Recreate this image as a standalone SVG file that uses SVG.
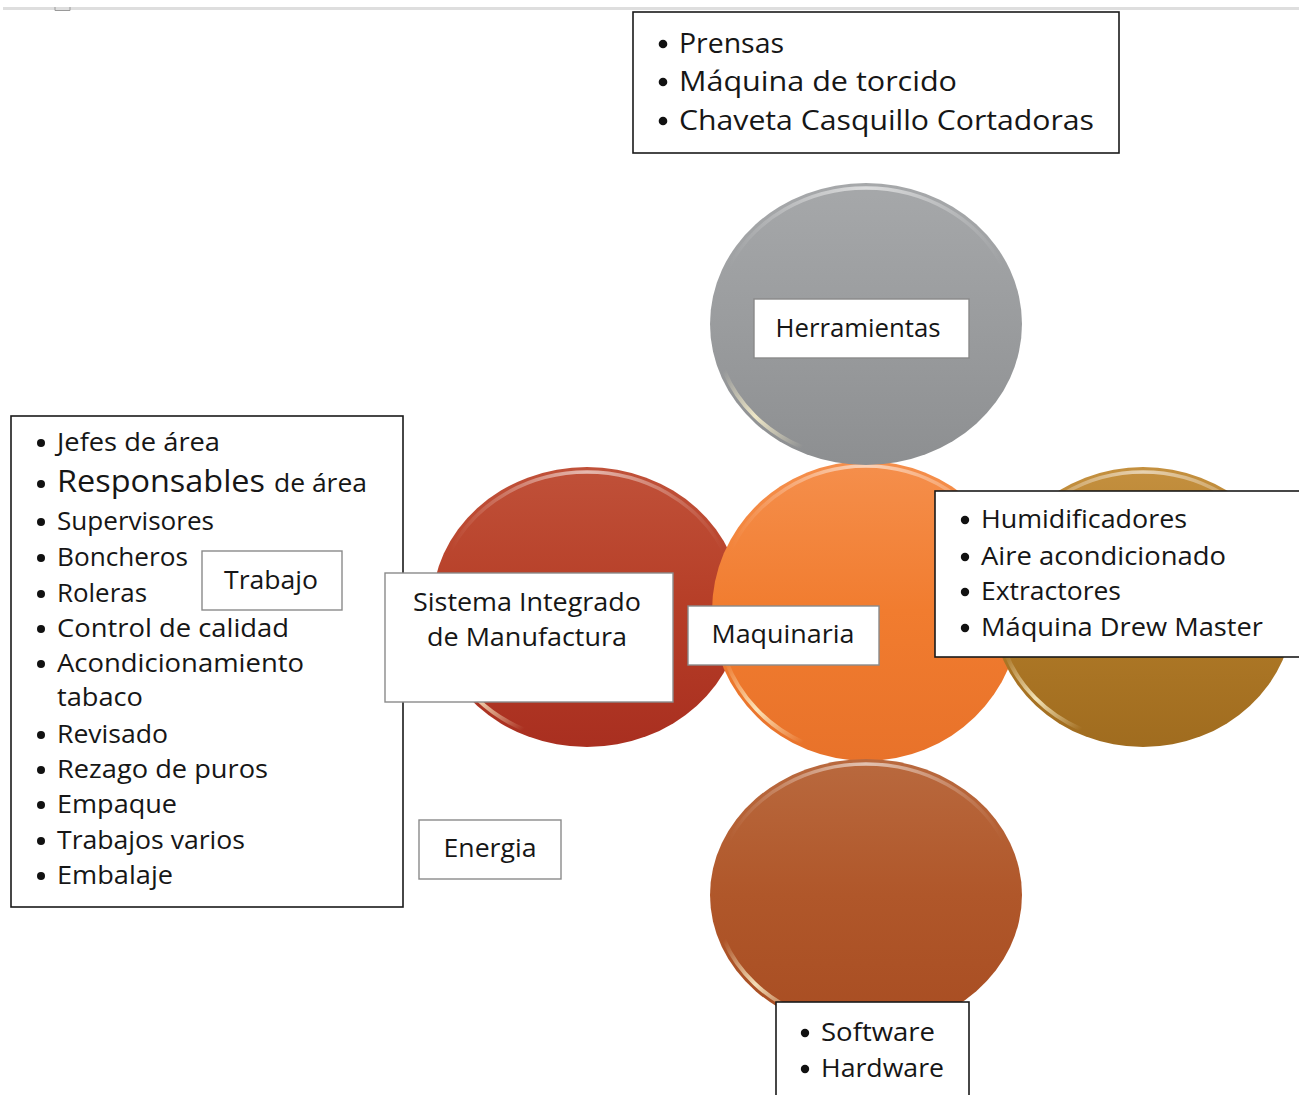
<svg xmlns="http://www.w3.org/2000/svg" width="1299" height="1095" viewBox="0 0 1299 1095">
<defs>
<style>
text{font-family:"Open Sans","Noto Sans","DejaVu Sans",sans-serif;fill:#161616}
.box{fill:#fff;stroke:#1a1a1a;stroke-width:1.6}
.lbl{fill:#fff;stroke:#8a8a8a;stroke-width:1.4}
.hl{fill:none;stroke:url(#hlg);stroke-width:3.5;stroke-linecap:round}
.hb{fill:none;stroke:url(#hbg);stroke-width:4;stroke-linecap:round}
.b{fill:#111}
.t27{font-size:27px}
.t26{font-size:26px}
.t25{font-size:25px}
.c{text-anchor:middle}
</style>
<linearGradient id="hlg" x1="0" y1="0" x2="1" y2="0">
<stop offset="0" stop-color="#fff" stop-opacity="0"/>
<stop offset="0.5" stop-color="#fff" stop-opacity="0.6"/>
<stop offset="1" stop-color="#fff" stop-opacity="0"/>
</linearGradient>
<linearGradient id="hbg" x1="0" y1="0" x2="1" y2="1">
<stop offset="0" stop-color="#fff6d0" stop-opacity="0"/>
<stop offset="0.5" stop-color="#fff6d0" stop-opacity="0.85"/>
<stop offset="1" stop-color="#fff6d0" stop-opacity="0"/>
</linearGradient>
<linearGradient id="gGray" x1="0" y1="0" x2="0" y2="1">
<stop offset="0" stop-color="#a6a8aa"/><stop offset="0.5" stop-color="#9a9c9e"/><stop offset="1" stop-color="#8d8f91"/>
</linearGradient>
<linearGradient id="gOrange" x1="0" y1="0" x2="0" y2="1">
<stop offset="0" stop-color="#f58f4c"/><stop offset="0.5" stop-color="#f17c2f"/><stop offset="1" stop-color="#e8722a"/>
</linearGradient>
<linearGradient id="gRed" x1="0" y1="0" x2="0" y2="1">
<stop offset="0" stop-color="#c05139"/><stop offset="0.5" stop-color="#b63e27"/><stop offset="1" stop-color="#a92f20"/>
</linearGradient>
<linearGradient id="gGold" x1="0" y1="0" x2="0" y2="1">
<stop offset="0" stop-color="#c4903f"/><stop offset="0.5" stop-color="#b17b28"/><stop offset="1" stop-color="#a06c1f"/>
</linearGradient>
<linearGradient id="gBrown" x1="0" y1="0" x2="0" y2="1">
<stop offset="0" stop-color="#b9693e"/><stop offset="0.5" stop-color="#b0572a"/><stop offset="1" stop-color="#a84d22"/>
</linearGradient>
</defs>
<rect width="1299" height="1095" fill="#fff"/>
<rect x="3" y="7" width="1296" height="3" fill="#dedede"/>
<path d="M55,7 V10.5 H70 V7" fill="none" stroke="#9a9a9a" stroke-width="1"/>

<g id="connectors"></g>

<g id="circle-red">
<ellipse cx="587" cy="607" rx="155" ry="140" fill="url(#gRed)"/>
<path class="hl" d="M451.1,549.9 A150,135 0 0 1 722.9,549.9"/>
<path class="hb" d="M446,653.2 A150,135 0 0 0 523.5,729.3"/>
</g>
<g id="circle-orange">
<ellipse cx="866" cy="611" rx="154" ry="150" fill="url(#gOrange)"/>
<path class="hl" d="M731,549.7 A149,145 0 0 1 1001,549.7"/>
<path class="hb" d="M725.9,660.6 A149,145 0 0 0 803,742.4"/>
</g>
<g id="circle-gold">
<ellipse cx="1143" cy="607" rx="151" ry="140" fill="url(#gGold)"/>
<path class="hl" d="M1010.7,549.9 A146,135 0 0 1 1275.3,549.9"/>
<path class="hb" d="M1005.8,653.2 A146,135 0 0 0 1081.2,729.3"/>
</g>
<g id="circle-gray">
<ellipse cx="866" cy="324" rx="156" ry="141" fill="url(#gGray)"/>
<path class="hl" d="M729.2,266.5 A151,136 0 0 1 1002.8,266.5"/>
<path class="hb" d="M724.1,370.5 A151,136 0 0 0 802.1,447.2"/>
</g>
<g id="circle-brown">
<ellipse cx="866" cy="895" rx="156" ry="136" fill="url(#gBrown)"/>
<path class="hl" d="M729.2,839.6 A151,131 0 0 1 1002.8,839.6"/>
<path class="hb" d="M724.1,939.8 A151,131 0 0 0 802.1,1013.7"/>
</g>

<g id="list-herramientas">
<rect class="box" x="633" y="12" width="486" height="141"/>
<circle class="b" cx="663" cy="44" r="4.3"/><text class="t27" x="679" y="53" textLength="105" lengthAdjust="spacingAndGlyphs">Prensas</text>
<circle class="b" cx="663" cy="82" r="4.3"/><text class="t27" x="679" y="91" textLength="278" lengthAdjust="spacingAndGlyphs">Máquina de torcido</text>
<circle class="b" cx="663" cy="121" r="4.3"/><text class="t27" x="679" y="130" textLength="415" lengthAdjust="spacingAndGlyphs">Chaveta Casquillo Cortadoras</text>
</g>

<g id="label-herramientas">
<rect class="lbl" x="754" y="299" width="215" height="59"/>
<text class="t25 c" x="858" y="337" textLength="165" lengthAdjust="spacingAndGlyphs">Herramientas</text>
</g>

<g id="list-trabajo">
<rect class="box" x="11" y="416" width="392" height="491"/>
<circle class="b" cx="41" cy="443" r="4"/><text class="t25" x="57" y="451" textLength="163" lengthAdjust="spacingAndGlyphs">Jefes de área</text>
<circle class="b" cx="41" cy="484" r="4"/><text x="57" y="492" style="font-size:31px" textLength="208" lengthAdjust="spacingAndGlyphs">Responsables</text><text class="t25" x="274" y="492" textLength="93" lengthAdjust="spacingAndGlyphs">de área</text>
<circle class="b" cx="41" cy="522" r="4"/><text class="t25" x="57" y="530" textLength="157" lengthAdjust="spacingAndGlyphs">Supervisores</text>
<circle class="b" cx="41" cy="558" r="4"/><text class="t25" x="57" y="566" textLength="131" lengthAdjust="spacingAndGlyphs">Boncheros</text>
<circle class="b" cx="41" cy="594" r="4"/><text class="t25" x="57" y="602" textLength="90" lengthAdjust="spacingAndGlyphs">Roleras</text>
<circle class="b" cx="41" cy="629" r="4"/><text class="t25" x="57" y="637" textLength="232" lengthAdjust="spacingAndGlyphs">Control de calidad</text>
<circle class="b" cx="41" cy="664" r="4"/><text class="t25" x="57" y="672" textLength="247" lengthAdjust="spacingAndGlyphs">Acondicionamiento</text>
<text class="t25" x="57" y="706" textLength="86" lengthAdjust="spacingAndGlyphs">tabaco</text>
<circle class="b" cx="41" cy="735" r="4"/><text class="t25" x="57" y="743" textLength="111" lengthAdjust="spacingAndGlyphs">Revisado</text>
<circle class="b" cx="41" cy="770" r="4"/><text class="t25" x="57" y="778" textLength="211" lengthAdjust="spacingAndGlyphs">Rezago de puros</text>
<circle class="b" cx="41" cy="805" r="4"/><text class="t25" x="57" y="813" textLength="120" lengthAdjust="spacingAndGlyphs">Empaque</text>
<circle class="b" cx="41" cy="841" r="4"/><text class="t25" x="57" y="849" textLength="188" lengthAdjust="spacingAndGlyphs">Trabajos varios</text>
<circle class="b" cx="41" cy="876" r="4"/><text class="t25" x="57" y="884" textLength="116" lengthAdjust="spacingAndGlyphs">Embalaje</text>
</g>

<g id="label-trabajo">
<rect class="lbl" x="202" y="551" width="140" height="59"/>
<text class="t25 c" x="271" y="589" textLength="94" lengthAdjust="spacingAndGlyphs">Trabajo</text>
</g>

<g id="label-sistema">
<rect class="lbl" x="385" y="573" width="288" height="129"/>
<text class="t25 c" x="527" y="611" textLength="228" lengthAdjust="spacingAndGlyphs">Sistema Integrado</text>
<text class="t25 c" x="527" y="646" textLength="200" lengthAdjust="spacingAndGlyphs">de Manufactura</text>
</g>

<g id="label-maquinaria">
<rect class="lbl" x="688" y="606" width="191" height="59"/>
<text class="t25 c" x="783" y="643" textLength="143" lengthAdjust="spacingAndGlyphs">Maquinaria</text>
</g>

<g id="list-maquinaria">
<rect class="box" x="935" y="491" width="370" height="166"/>
<circle class="b" cx="965" cy="520" r="4.2"/><text class="t26" x="981" y="528" textLength="206" lengthAdjust="spacingAndGlyphs">Humidificadores</text>
<circle class="b" cx="965" cy="557" r="4.2"/><text class="t26" x="981" y="565" textLength="245" lengthAdjust="spacingAndGlyphs">Aire acondicionado</text>
<circle class="b" cx="965" cy="592" r="4.2"/><text class="t26" x="981" y="600" textLength="140" lengthAdjust="spacingAndGlyphs">Extractores</text>
<circle class="b" cx="965" cy="628" r="4.2"/><text class="t26" x="981" y="636" textLength="282" lengthAdjust="spacingAndGlyphs">Máquina Drew Master</text>
</g>

<g id="label-energia">
<rect class="lbl" x="419" y="820" width="142" height="59"/>
<text class="t25 c" x="490" y="857" textLength="93" lengthAdjust="spacingAndGlyphs">Energia</text>
</g>

<g id="list-energia">
<rect class="box" x="776" y="1002" width="193" height="100"/>
<circle class="b" cx="805" cy="1033" r="4.2"/><text class="t26" x="821" y="1041" textLength="114" lengthAdjust="spacingAndGlyphs">Software</text>
<circle class="b" cx="805" cy="1069" r="4.2"/><text class="t26" x="821" y="1077" textLength="123" lengthAdjust="spacingAndGlyphs">Hardware</text>
</g>
</svg>
